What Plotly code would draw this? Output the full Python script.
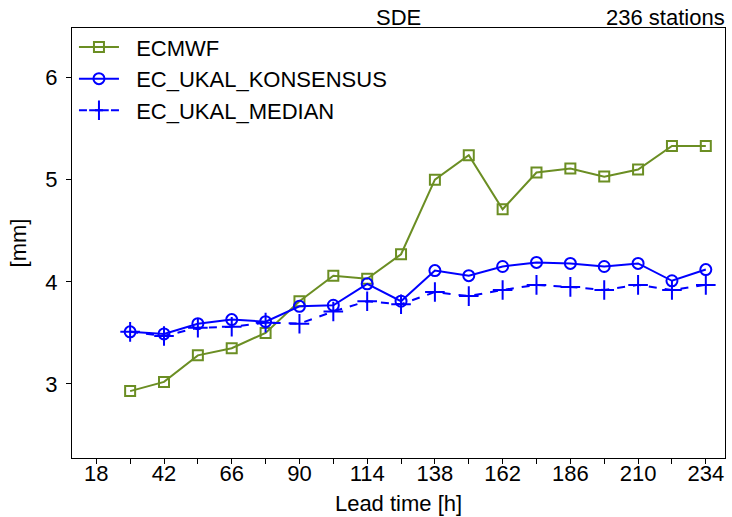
import plotly.graph_objects as go

lead_time = [30, 42, 54, 66, 78, 90, 102, 114, 126, 138, 150, 162, 174, 186, 198, 210, 222, 234]
ecmwf = [2.93, 3.02, 3.28, 3.35, 3.50, 3.81, 4.06, 4.03, 4.27, 5.00, 5.24, 4.71, 5.07, 5.11, 5.03, 5.10, 5.33, 5.33]
konsensus = [3.51, 3.49, 3.59, 3.63, 3.61, 3.76, 3.77, 3.98, 3.81, 4.11, 4.06, 4.15, 4.19, 4.18, 4.15, 4.18, 4.01, 4.12]
median = [3.51, 3.47, 3.55, 3.56, 3.60, 3.59, 3.71, 3.81, 3.78, 3.90, 3.86, 3.92, 3.97, 3.95, 3.92, 3.97, 3.92, 3.97]
x_ticks = [18, 42, 66, 90, 114, 138, 162, 186, 210, 234]
y_ticks = [3, 4, 5, 6]
series_names = ["ECMWF", "EC_UKAL_KONSENSUS", "EC_UKAL_MEDIAN"]

GREEN = "#6B8E23"
BLUE = "#0000FF"
FONT = "Liberation Sans, Arial, sans-serif"
FS = 22
PAD = "\u00a0\u00a0"

fig = go.Figure()
fig.add_trace(go.Scatter(
    x=lead_time, y=ecmwf, name=PAD + series_names[0], mode="lines+markers",
    line=dict(color=GREEN, width=2),
    marker=dict(symbol="square-open", size=10, color=GREEN, line=dict(width=2, color=GREEN)),
))
fig.add_trace(go.Scatter(
    x=lead_time, y=konsensus, name=PAD + series_names[1], mode="lines+markers",
    line=dict(color=BLUE, width=2),
    marker=dict(symbol="circle-open", size=11, color=BLUE, line=dict(width=2, color=BLUE)),
))
fig.add_trace(go.Scatter(
    x=lead_time, y=median, name=PAD + series_names[2], mode="lines+markers",
    line=dict(color=BLUE, width=2, dash="8px,8px"),
    marker=dict(symbol="cross-thin", size=14, color=BLUE, line=dict(width=2, color=BLUE)),
))

axis_common = dict(
    showline=True, linecolor="black", linewidth=1, mirror=True,
    ticks="outside", ticklen=5, tickcolor="black", tickwidth=1,
    showgrid=False, zeroline=False, automargin=False,
    tickfont=dict(family=FONT, size=FS, color="black"),
)

fig.update_layout(
    width=732, height=517,
    margin=dict(l=72, r=7, t=28, b=59, autoexpand=False),
    paper_bgcolor="white", plot_bgcolor="white",
    font=dict(family=FONT, size=FS, color="black"),
    showlegend=True,
    legend=dict(x=0.003, y=1.004, xanchor="left", yanchor="top",
                bgcolor="rgba(0,0,0,0)", font=dict(family=FONT, size=FS, color="black"),
                itemwidth=40, tracegroupgap=0),
    xaxis=dict(range=[9.4, 240.8], tickvals=x_ticks, ticklabelstandoff=-9,
               title=dict(text="Lead time [h]", standoff=10, font=dict(family=FONT, size=FS)),
               minor=dict(tickvals=[t + 12 for t in x_ticks[:-1]], ticks="outside", ticklen=5,
                          tickcolor="black", tickwidth=1, showgrid=False),
               **axis_common),
    yaxis=dict(range=[2.275, 6.485], tickvals=y_ticks, ticklabelstandoff=4,
               title=dict(text="[mm]", standoff=12, font=dict(family=FONT, size=FS)),
               **axis_common),
    annotations=[
        dict(text="SDE", x=0.5, y=1, xref="paper", yref="paper", xanchor="center",
             yanchor="bottom", showarrow=False, yshift=-4, font=dict(family=FONT, size=FS)),
        dict(text="236 stations", x=1, y=1, xref="paper", yref="paper", xanchor="right",
             yanchor="bottom", showarrow=False, yshift=-4, xshift=2, font=dict(family=FONT, size=FS)),
    ],
)

fig.write_html(
    "out.html",
    config={"displayModeBar": False},
    post_script="document.body.style.margin='0px'; document.body.style.overflow='hidden';",
)
